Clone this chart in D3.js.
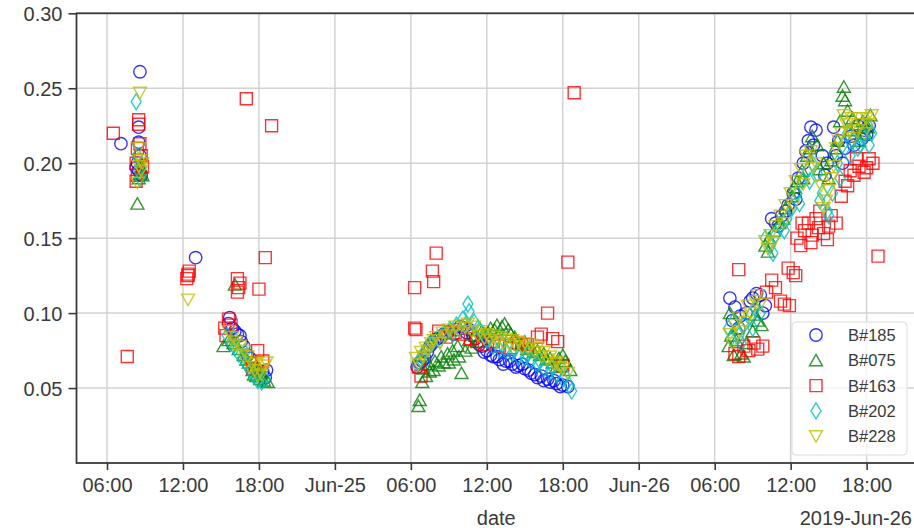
<!DOCTYPE html>
<html><head><meta charset="utf-8">
<script src="https://cdn.jsdelivr.net/npm/d3@7"></script>
<style>
body{margin:0;background:#fff}
svg{display:block;font-family:"Liberation Sans",Arial,sans-serif}
</style>
</head><body>
<svg id="chart" width="914" height="528"></svg>
<script>
// time values are hours after 2019-06-24 00:00
const T0 = new Date(2019, 5, 24, 0, 0)
const hrs = h => new Date(+T0 + h*3600e3)

const b185 = [
  [7.1,0.213],[8.6,0.261],[8.5,0.224],[8.5,0.214],[8.4,0.200],[8.3,0.197],[8.5,0.195],[8.6,0.205],[8.7,0.192],
  [13.0,0.137],
  [15.6,0.093],[15.7,0.097],[15.9,0.090],[16.3,0.086],[16.5,0.085],[16.8,0.078],[17.1,0.072],[17.4,0.067],
  [17.7,0.063],[18.0,0.060],[18.3,0.061],[18.6,0.062],[18.5,0.057],[16.1,0.088],[16.6,0.081],[17.3,0.070],
  [30.5,0.064],[30.9,0.068],[31.3,0.074],[31.7,0.080],[32.1,0.083],[32.6,0.086],[33.1,0.088],[33.6,0.089],
  [34.1,0.090],[34.6,0.089],[35.1,0.083],[35.6,0.078],[36.0,0.075],[36.5,0.071],[37.0,0.069],[37.5,0.068],
  [38.0,0.066],[38.5,0.065],[39.0,0.063],[39.5,0.060],[40.0,0.057],[40.5,0.055],[41.0,0.054],[41.5,0.053],
  [42.0,0.052],[42.4,0.051],
  [30.7,0.067],[31.1,0.070],[31.5,0.078],[31.9,0.082],[32.4,0.084],[32.9,0.087],[33.4,0.086],[33.9,0.091],
  [34.4,0.087],[34.9,0.085],[35.4,0.079],[35.8,0.074],[36.3,0.072],[36.8,0.071],[37.3,0.066],[37.8,0.068],
  [38.3,0.064],[38.8,0.066],[39.3,0.062],[39.8,0.059],[40.3,0.058],[40.8,0.056],[41.3,0.055],[41.8,0.051],
  [55.2,0.110],[55.6,0.104],[56.0,0.098],[56.5,0.100],[57.0,0.110],[57.3,0.113],[57.6,0.112],[58.0,0.105],
  [58.5,0.163],[58.8,0.160],[59.3,0.165],[59.8,0.172],[60.2,0.180],[60.6,0.190],[61.0,0.200],[61.4,0.215],
  [61.6,0.224],[62.0,0.222],[62.5,0.205],[62.9,0.200],[63.4,0.224],[63.8,0.215],[64.3,0.210],[64.8,0.218],
  [65.3,0.225],[65.8,0.222],[66.2,0.225],
  [55.4,0.095],[55.9,0.090],[56.8,0.108],[57.8,0.100],[59.0,0.158],[59.6,0.168],[60.4,0.176],[61.2,0.208],
  [61.8,0.212],[62.7,0.192],[63.6,0.205],[64.1,0.200],[65.0,0.212],[65.6,0.216],[66.0,0.219]
]
const b075 = [
  [8.4,0.173],[8.5,0.190],[8.6,0.193],[8.7,0.197],[8.8,0.192],
  [15.2,0.078],[16.1,0.119],[15.6,0.082],[16.0,0.080],[16.4,0.076],[16.8,0.072],[17.2,0.067],[17.5,0.062],
  [17.8,0.058],[18.1,0.056],[18.4,0.055],[18.7,0.054],[18.2,0.060],[17.0,0.069],[17.6,0.059],[18.0,0.063],
  [30.6,0.038],[30.7,0.042],[30.9,0.054],[31.2,0.058],[31.5,0.061],[31.8,0.062],[32.2,0.065],[32.6,0.067],
  [33.0,0.067],[33.4,0.069],[33.8,0.071],[34.0,0.060],[34.3,0.075],[34.8,0.077],[35.3,0.081],[35.8,0.086],
  [36.3,0.090],[36.8,0.092],[37.2,0.091],[37.7,0.089],[38.2,0.084],[38.7,0.079],[39.2,0.076],[39.7,0.074],
  [40.2,0.072],[40.7,0.069],[41.2,0.067],[41.7,0.070],[42.2,0.068],[42.6,0.062],
  [31.0,0.063],[31.4,0.066],[31.9,0.068],[32.4,0.071],[32.9,0.073],[33.3,0.075],[33.7,0.078],[34.6,0.082],
  [35.1,0.085],[35.6,0.088],[36.1,0.087],[36.6,0.089],[37.4,0.093],[37.9,0.086],[38.4,0.080],[39.0,0.081],
  [39.5,0.077],[40.0,0.075],[40.5,0.073],[41.0,0.070],[41.5,0.064],[42.0,0.072],
  [55.1,0.078],[55.3,0.085],[55.5,0.072],[55.8,0.090],[56.1,0.073],[56.5,0.080],[57.0,0.088],[57.4,0.095],
  [57.7,0.092],[58.0,0.145],[58.3,0.150],[58.7,0.155],[59.1,0.160],[59.6,0.170],[60.1,0.178],[60.5,0.188],
  [60.9,0.195],[61.3,0.205],[61.7,0.218],[62.1,0.212],[62.6,0.200],[63.0,0.190],[63.5,0.210],[63.9,0.228],
  [64.2,0.251],[64.3,0.242],[64.5,0.235],[64.9,0.230],[65.4,0.215],[65.9,0.220],[66.3,0.232],
  [55.2,0.100],[55.7,0.082],[56.3,0.071],[57.2,0.099],[58.2,0.141],[59.4,0.163],[60.3,0.184],[61.0,0.190],
  [61.5,0.210],[62.3,0.196],[63.2,0.202],[63.7,0.215],[64.1,0.245],[64.7,0.222],[65.2,0.226],[65.7,0.228],
  [66.1,0.224]
]
const b163 = [
  [6.5,0.220],[7.6,0.071],[8.5,0.229],[8.5,0.226],[8.6,0.213],[8.4,0.210],[8.7,0.205],[8.3,0.200],
  [8.4,0.192],[8.3,0.188],[8.8,0.198],[17.0,0.243],[19.0,0.225],
  [12.3,0.123],[12.4,0.126],[12.5,0.128],[12.4,0.125],
  [15.3,0.090],[15.6,0.096],[15.4,0.085],[15.8,0.092],[16.3,0.123],[16.4,0.117],[16.3,0.114],[16.5,0.120],
  [17.9,0.075],[18.0,0.116],[18.5,0.137],[18.3,0.068],[17.5,0.063],
  [30.3,0.117],[30.4,0.089],[30.3,0.090],[30.6,0.064],[30.8,0.058],[31.7,0.128],[31.8,0.121],[32.0,0.140],
  [32.2,0.088],[32.8,0.084],[33.5,0.087],[34.0,0.086],[34.7,0.083],[35.2,0.081],[35.8,0.079],[36.5,0.081],
  [37.0,0.078],[37.8,0.077],[38.5,0.080],[39.2,0.079],[40.0,0.084],[40.3,0.086],[40.8,0.100],[41.2,0.083],
  [41.6,0.081],[42.0,0.065],[42.4,0.134],[42.9,0.247],
  [55.9,0.129],[55.6,0.073],[55.9,0.071],[56.3,0.078],[56.7,0.075],[57.1,0.080],[57.4,0.076],[57.8,0.078],
  [58.1,0.114],[58.5,0.122],[58.8,0.117],[59.2,0.108],[59.5,0.106],[59.8,0.130],[59.9,0.105],[60.2,0.127],
  [60.4,0.125],[60.5,0.150],[60.8,0.145],[61.1,0.155],[61.4,0.160],[61.7,0.152],[62.0,0.163],[62.3,0.168],
  [62.6,0.153],[62.9,0.149],[63.2,0.165],[63.6,0.160],[64.0,0.178],[64.3,0.188],[64.7,0.195],[65.0,0.192],
  [65.4,0.198],[65.8,0.194],[66.2,0.203],[66.5,0.200],[66.9,0.138],
  [60.9,0.160],[61.6,0.147],[62.2,0.157],[63.0,0.158],[64.5,0.185],[65.2,0.203],[66.0,0.197]
]
const b202 = [
  [8.3,0.241],[8.4,0.205],[8.5,0.195],[8.6,0.190],[8.7,0.197],
  [15.5,0.085],[15.8,0.080],[16.1,0.077],[16.4,0.073],[16.7,0.070],[17.0,0.066],[17.3,0.062],[17.6,0.058],
  [17.9,0.055],[18.2,0.054],[18.5,0.056],[16.0,0.083],[16.9,0.074],[17.8,0.060],
  [30.5,0.066],[30.9,0.072],[31.3,0.076],[31.7,0.080],[32.1,0.083],[32.6,0.086],[33.1,0.089],[33.6,0.092],
  [34.1,0.096],[34.5,0.106],[34.6,0.101],[35.0,0.094],[35.5,0.088],[36.0,0.082],[36.5,0.078],[37.0,0.076],
  [37.5,0.075],[38.0,0.073],[38.5,0.071],[39.0,0.070],[39.5,0.068],[40.0,0.066],[40.5,0.063],[41.0,0.061],
  [41.5,0.059],[42.0,0.056],[42.5,0.052],[42.7,0.048],
  [30.8,0.069],[31.5,0.079],[32.3,0.082],[33.3,0.086],[34.3,0.092],[35.3,0.090],[36.2,0.084],[37.2,0.079],
  [38.2,0.076],[39.2,0.072],[40.2,0.068],[41.2,0.064],[42.2,0.058],
  [55.1,0.090],[55.5,0.095],[55.9,0.085],[56.3,0.092],[56.8,0.098],[57.2,0.103],[57.6,0.100],[58.0,0.150],
  [58.4,0.145],[58.8,0.152],[59.2,0.158],[59.7,0.163],[60.1,0.170],[60.5,0.180],[60.9,0.188],[61.3,0.195],
  [61.7,0.200],[62.1,0.193],[62.5,0.180],[62.9,0.168],[63.3,0.180],[63.7,0.200],[64.1,0.212],[64.5,0.220],
  [64.9,0.215],[65.3,0.210],[65.7,0.218],[66.1,0.225],[66.4,0.220],
  [55.3,0.083],[56.1,0.080],[57.0,0.090],[58.6,0.140],[59.5,0.155],[60.7,0.173],[61.5,0.188],[62.3,0.175],
  [63.0,0.165],[63.9,0.190],[64.7,0.205],[65.5,0.212],[66.2,0.212]
]
const b228 = [
  [8.6,0.247],[8.4,0.187],[8.5,0.198],[8.6,0.202],[8.7,0.195],[8.8,0.200],[8.5,0.210],
  [12.4,0.109],
  [15.6,0.088],[15.9,0.084],[16.2,0.081],[16.5,0.078],[16.8,0.075],[17.1,0.071],[17.4,0.067],[17.7,0.062],
  [17.9,0.058],[18.1,0.062],[18.4,0.065],[18.6,0.067],[16.0,0.079],[16.7,0.072],[17.3,0.064],[17.8,0.066],
  [18.2,0.059],
  [30.4,0.070],[30.8,0.074],[31.2,0.077],[31.6,0.080],[32.0,0.084],[32.5,0.087],[33.0,0.089],[33.5,0.091],
  [34.0,0.092],[34.5,0.093],[35.0,0.091],[35.5,0.088],[36.0,0.086],[36.5,0.085],[37.0,0.084],[37.5,0.083],
  [38.0,0.082],[38.5,0.081],[39.0,0.080],[39.5,0.079],[40.0,0.077],[40.5,0.074],[41.0,0.071],[41.5,0.067],
  [42.0,0.063],[42.4,0.060],
  [30.6,0.066],[31.0,0.071],[31.4,0.075],[31.8,0.082],[32.3,0.080],[32.8,0.085],[33.3,0.087],[33.8,0.088],
  [34.3,0.090],[34.8,0.088],[35.3,0.085],[35.8,0.083],[36.3,0.082],[36.8,0.081],[37.3,0.080],[37.8,0.079],
  [38.3,0.078],[38.8,0.077],[39.3,0.076],[39.8,0.074],[40.3,0.071],[40.8,0.069],[41.3,0.066],[41.8,0.064],
  [55.2,0.086],[55.6,0.092],[56.0,0.088],[56.4,0.094],[56.8,0.100],[57.2,0.108],[57.6,0.106],[58.0,0.148],
  [58.4,0.152],[58.8,0.158],[59.2,0.165],[59.6,0.172],[60.0,0.180],[60.4,0.188],[60.8,0.196],[61.2,0.205],
  [61.6,0.208],[62.0,0.200],[62.4,0.185],[62.8,0.175],[63.2,0.190],[63.6,0.210],[64.0,0.220],[64.4,0.226],
  [64.8,0.230],[65.2,0.222],[65.6,0.226],[66.0,0.230],[66.4,0.232],
  [55.4,0.080],[55.9,0.097],[56.6,0.105],[57.4,0.112],[58.2,0.143],[58.6,0.147],[59.4,0.160],[60.2,0.172],
  [61.0,0.186],[61.8,0.197],[62.6,0.170],[63.0,0.182],[63.4,0.198],[63.8,0.215],[64.2,0.232],[64.6,0.221],
  [65.0,0.217],[65.4,0.230],[65.8,0.220],[66.2,0.226]
]

const seriesNames = ['B#185', 'B#075', 'B#163', 'B#202', 'B#228']
const seriesData = [b185, b075, b163, b202, b228]
const seriesColors = ['#0000ff', '#008000', '#ff0000', '#00bfbf', '#bfbf00']
const seriesMarkers = ['circle', 'triangleUp', 'square', 'thinDiamond', 'triangleDown']
const yTicks = [0.05, 0.10, 0.15, 0.20, 0.25, 0.30]
const xTickHours = [6, 12, 18, 24, 30, 36, 42, 48, 54, 60, 66]
const xDomainHours = [3.59, 69.9]
const yDomain = [0, 0.30]

const M = { left: 76.5, right: 916, top: 13.3, bottom: 463 }
const svg = d3.select('#chart')
const INK = '#3a3a3a'

const x = d3.scaleTime().domain(xDomainHours.map(hrs)).range([M.left, M.right])
const y = d3.scaleLinear().domain(yDomain).range([M.bottom, M.top])

// marker shapes, in pixels around the point
const markerPath = {
  triangleUp: 'M0,-6L6.5,5.5L-6.5,5.5Z',
  triangleDown: 'M0,6L6.5,-5.5L-6.5,-5.5Z',
  square: 'M-6,-6H6V6H-6Z',
  thinDiamond: 'M0,-8L5,0L0,8L-5,0Z'
}
function drawMarker(g, kind, color){
  if(kind === 'circle') g.append('circle').attr('r', 6.2)
  else g.append('path').attr('d', markerPath[kind])
  g.selectAll('circle,path').attr('fill', 'none').attr('stroke', color)
    .attr('stroke-width', 1.4).attr('stroke-opacity', 0.8)
}

// grid
const grid = svg.append('g')
grid.selectAll('line.gx').data(xTickHours).join('line')
  .attr('x1', d => x(hrs(d))).attr('x2', d => x(hrs(d)))
  .attr('y1', M.top).attr('y2', M.bottom)
  .attr('stroke', '#d2d2d2').attr('stroke-width', 1.5)
grid.selectAll('line.gy').data(yTicks).join('line')
  .attr('x1', M.left).attr('x2', M.right)
  .attr('y1', d => y(d)).attr('y2', d => y(d))
  .attr('stroke', '#d2d2d2').attr('stroke-width', 1.5)

// points
svg.append('clipPath').attr('id', 'clip').append('rect')
  .attr('x', M.left).attr('y', M.top).attr('width', M.right - M.left).attr('height', M.bottom - M.top)
const pts = svg.append('g').attr('clip-path', 'url(#clip)')
seriesData.forEach((data, i) => {
  pts.append('g').selectAll('g').data(data).join('g')
    .attr('transform', d => `translate(${x(hrs(d[0]))},${y(d[1])})`)
    .each(function(){ drawMarker(d3.select(this), seriesMarkers[i], seriesColors[i]) })
})

// axes
const fmtTick = d => d.getHours() === 0 ? d3.timeFormat('%b-%d')(d) : d3.timeFormat('%H:%M')(d)
const xAxis = svg.append('g').attr('transform', `translate(0,${M.bottom})`)
  .call(d3.axisBottom(x).tickValues(xTickHours.map(hrs)).tickFormat(fmtTick).tickSize(7).tickPadding(8))
const yAxis = svg.append('g').attr('transform', `translate(${M.left},0)`)
  .call(d3.axisLeft(y).tickValues(yTicks).tickFormat(d3.format('.2f')).tickSize(8).tickPadding(6))
for(const ax of [xAxis, yAxis]){
  ax.select('.domain').remove()
  ax.selectAll('.tick line').attr('stroke', INK).attr('stroke-width', 1.6)
  ax.selectAll('.tick text').attr('fill', INK).style('font-size', '20px')
    .style('font-family', '"Liberation Sans", Arial, sans-serif')
}
yAxis.selectAll('.tick text').attr('dy', '0.36em')

// spines
svg.append('rect').attr('x', M.left).attr('y', M.top)
  .attr('width', M.right - M.left).attr('height', M.bottom - M.top)
  .attr('fill', 'none').attr('stroke', INK).attr('stroke-width', 1.8)

svg.append('text').attr('x', (M.left + M.right) / 2).attr('y', 525)
  .attr('text-anchor', 'middle').attr('fill', INK).style('font-size', '20px').text('date')
svg.append('text').attr('x', 912).attr('y', 525)
  .attr('text-anchor', 'end').attr('fill', INK).style('font-size', '20px').text('2019-Jun-26')

// legend
const lg = svg.append('g').attr('transform', 'translate(792,322)')
lg.append('rect').attr('width', 115).attr('height', 133).attr('rx', 4)
  .attr('fill', '#fff').attr('fill-opacity', 0.8).attr('stroke', '#dcdcdc')
seriesNames.forEach((name, i) => {
  const row = lg.append('g').attr('transform', `translate(0,${13 + i * 25.3})`)
  drawMarker(row.append('g').attr('transform', 'translate(24,0)'), seriesMarkers[i], seriesColors[i])
  row.append('text').attr('x', 56).attr('y', 0).attr('dy', '0.36em')
    .attr('fill', INK).style('font-size', '16.5px').text(name)
})
</script>
</body></html>
